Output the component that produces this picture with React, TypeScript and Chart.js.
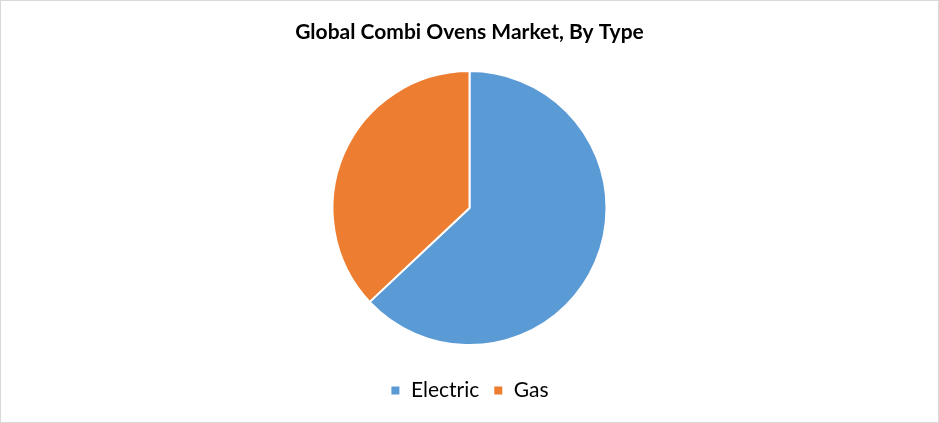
import { useEffect, useRef } from 'react';
import { Chart, registerables } from 'chart.js';

Chart.register(...registerables);

const titleText = 'Global Combi Ovens Market, By Type';
const types = ['Electric', 'Gas'];
const shares = [63, 37];
const sliceColors = ['#5B9BD5', '#ED7D31'];

export default function App() {
  const canvasRef = useRef<HTMLCanvasElement | null>(null);
  const chartRef = useRef<Chart | null>(null);

  useEffect(() => {
    document.body.style.margin = '0';
    const ctx = canvasRef.current!.getContext('2d')!;

    if (chartRef.current) {
      chartRef.current.destroy();
      chartRef.current = null;
    }

    chartRef.current = new Chart(ctx, {
      type: 'pie',
      data: {
        labels: types,
        datasets: [
          {
            data: shares,
            backgroundColor: sliceColors,
            borderColor: '#ffffff',
            borderWidth: 2,
            radius: 137,
          },
        ],
      },
      options: {
        responsive: true,
        maintainAspectRatio: false,
        animation: false,
        layout: { padding: { top: 0, bottom: 11 } },
        plugins: {
          title: {
            display: true,
            text: titleText,
            color: '#000000',
            font: { family: 'Lato', size: 21, weight: 'bold' },
            padding: { top: 19, bottom: 5 },
          },
          legend: {
            position: 'bottom',
            labels: {
              color: '#000000',
              font: { family: 'Lato', size: 21 },
              boxWidth: 10,
              boxHeight: 10,
              padding: 14,
            },
          },
          tooltip: { enabled: false },
        },
      },
    });

    return () => {
      if (chartRef.current) {
        chartRef.current.destroy();
        chartRef.current = null;
      }
    };
  }, []);

  return (
    <div
      style={{
        position: 'absolute',
        left: 0,
        top: 0,
        width: 939,
        height: 423,
        boxSizing: 'border-box',
        border: '1px solid #d9d9d9',
        background: '#ffffff',
      }}
    >
      <canvas ref={canvasRef} />
    </div>
  );
}
